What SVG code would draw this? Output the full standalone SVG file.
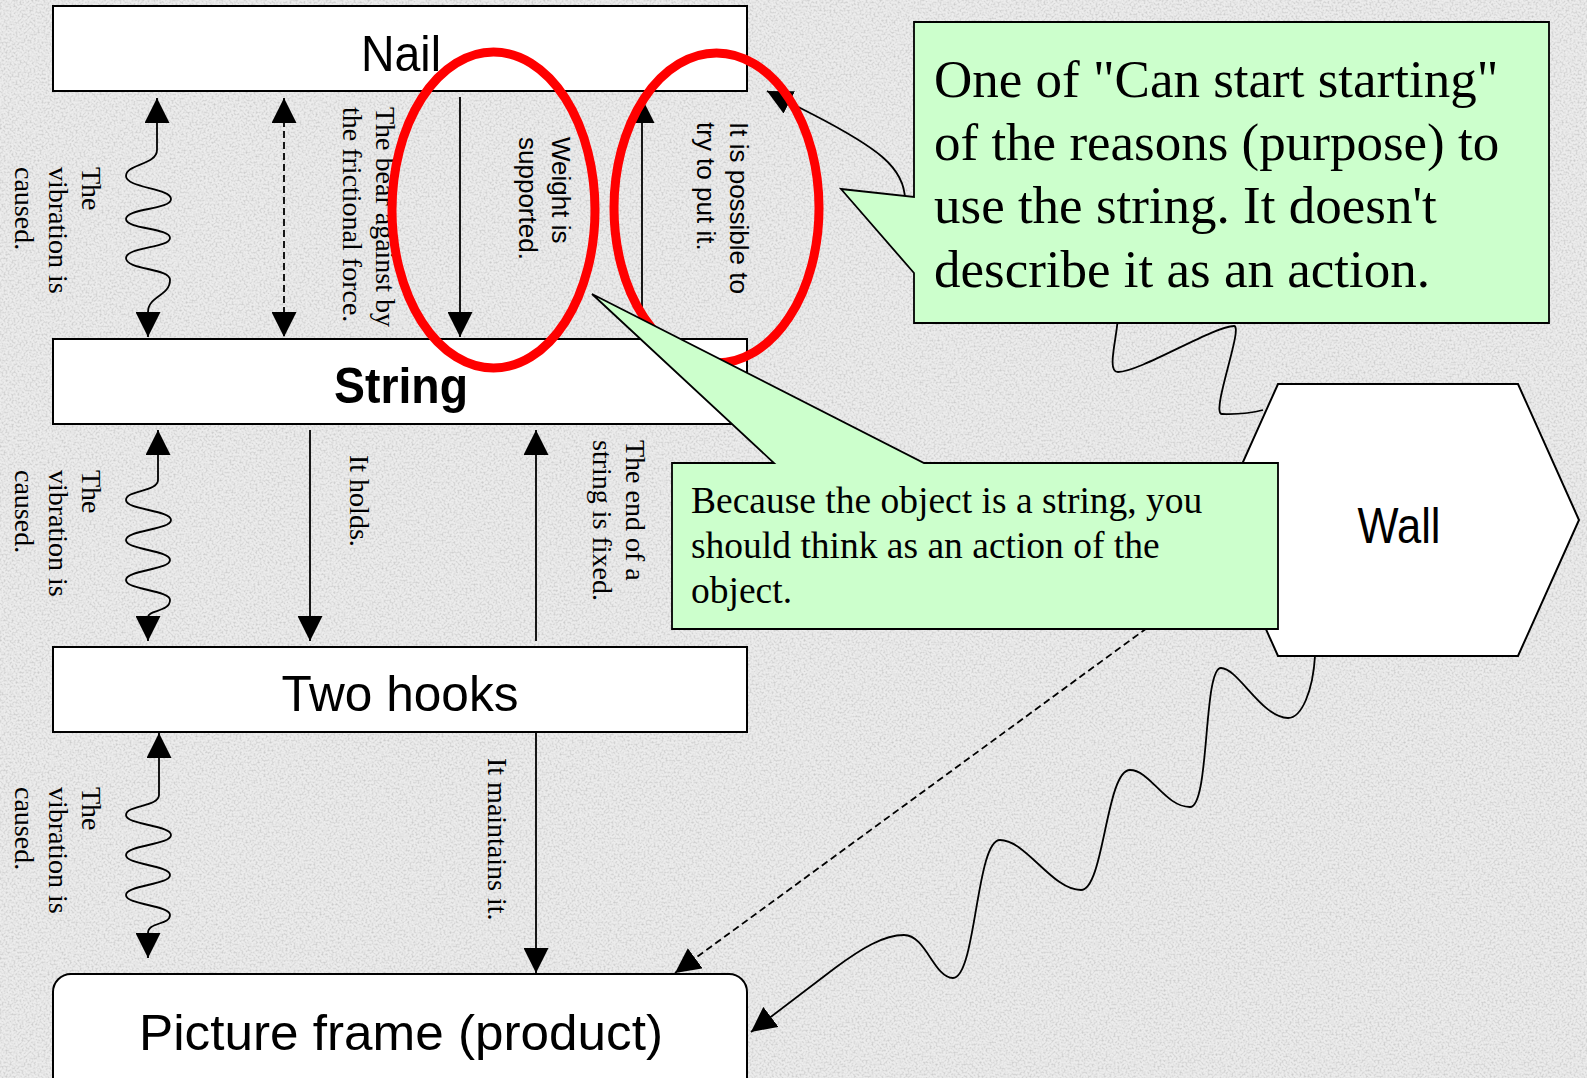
<svg xmlns="http://www.w3.org/2000/svg" width="1587" height="1078" viewBox="0 0 1587 1078">
<defs>
<style>
.box{fill:#fff;stroke:#000;stroke-width:2}
.lbl{font-family:"Liberation Sans",Arial,sans-serif;font-size:50px;fill:#000;text-anchor:middle}
.ser{font-family:"Liberation Serif","Times New Roman",serif;font-size:28px;fill:#000}
.san{font-family:"Liberation Sans",Arial,sans-serif;font-size:26px;fill:#000}
.ln{fill:none;stroke:#000;stroke-width:1.8}
.dash{stroke-dasharray:7 4}
.arr{marker-end:url(#ah)}
.arr2{marker-start:url(#ah);marker-end:url(#ah)}
.ring{fill:none;stroke:#ff0000;stroke-width:9}
.call{fill:#ccffcc;stroke:#000;stroke-width:1.8}
.ctxt{font-family:"Liberation Serif","Times New Roman",serif;fill:#000}
</style>
<marker id="ah" viewBox="0 0 25 25" refX="25" refY="12.5" markerWidth="25" markerHeight="25" markerUnits="userSpaceOnUse" orient="auto-start-reverse"><path d="M0,0 L25,12.5 L0,25 Z" fill="#000"/></marker>
<filter id="grain" x="0" y="0" width="1587" height="1078" filterUnits="userSpaceOnUse">
<feTurbulence type="fractalNoise" baseFrequency="0.5" numOctaves="3" seed="7" result="n"/>
<feColorMatrix in="n" type="matrix" values="0 0 0 0 0.58  0 0 0 0 0.58  0 0 0 0 0.58  2.3 0 0 0 -0.98"/>
</filter>
</defs>
<g id="background">
<rect x="0" y="0" width="1587" height="1078" fill="#ececec"/>
<rect x="0" y="0" width="1587" height="1078" filter="url(#grain)"/>
</g>
<g id="nail">
<rect class="box" x="53" y="6" width="694" height="85"/>
<text class="lbl" x="401" y="71" textLength="80" lengthAdjust="spacingAndGlyphs">Nail</text>
</g>
<g id="string">
<rect class="box" x="53" y="339" width="694" height="85"/>
<text class="lbl" x="401" y="403" font-weight="bold" textLength="134" lengthAdjust="spacingAndGlyphs">String</text>
</g>
<g id="two-hooks">
<rect class="box" x="53" y="647" width="694" height="85"/>
<text class="lbl" x="400" y="711" textLength="237" lengthAdjust="spacingAndGlyphs">Two hooks</text>
</g>
<g id="picture-frame">
<rect class="box" x="53" y="974" width="694" height="140" rx="18" ry="18"/>
<text class="lbl" x="401" y="1050" textLength="524" lengthAdjust="spacingAndGlyphs">Picture frame (product)</text>
</g>
<g id="connectors">
<path class="ln arr2" d="M157,98 V150 C157,165 126,164 126,176 C126,188 171,188 171,199 C171,210 126,208 126,219 C126,229 170,228 170,238 C170,248 126,247 126,258 C126,270 170,268 170,280 C170,296 148,296 148,312 V337"/>
<path class="ln dash arr2" d="M284,98 V337"/>
<path class="ln arr" d="M460,97 V337"/>
<path class="ln arr" d="M642,339 V98"/>
<path class="ln arr2" d="M158,430 V480 C158,492 126,490 126,500 C126,510 171,510 171,520 C171,530 126,530 126,540 C126,550 170,550 170,560 C170,570 126,570 126,580 C126,590 170,590 170,600 C170,612 148,610 148,617 V641"/>
<path class="ln arr" d="M310,430 V641"/>
<path class="ln arr" d="M536,641 V430"/>
<path class="ln arr2" d="M159,733 V795 C159,807 126,805 126,815 C126,825 171,825 171,835 C171,845 126,845 126,855 C126,865 170,865 170,875 C170,885 126,885 126,895 C126,905 170,905 170,915 C170,925 148,922 148,933 V958"/>
<path class="ln arr" d="M536,732 V973"/>
<path class="ln dash arr" d="M1236,563 L675,973"/>
<path class="ln arr" d="M1315,656 C1313,690 1302,718 1288,718 C1262,718 1238,668 1221,668 C1203,668 1210,807 1190,807 C1165,807 1150,770 1130,770 C1106,770 1104,890 1081,890 C1052,890 1026,840 1000,840 C976,840 976,978 953,978 C934,978 926,935 904,935 C884,935 862,948 835,968 L751,1032"/>
<path class="ln arr" d="M1263,410 C1245,415 1232,414 1222,414 C1210,414 1244,326 1234,326 C1214,326 1140,372 1118,372 C1104,372 1122,325 1118,300 C1112,250 1000,280 960,260 C930,248 905,250 905,230 L905,200 C905,168 878,148 812,114 L767,91"/>
<text class="ser" transform="translate(82,167) rotate(90)"><tspan x="0" y="0">The</tspan><tspan x="0" dy="33.5">vibration is</tspan><tspan x="0" dy="33.5">caused.</tspan></text>
<text class="ser" transform="translate(376,107) rotate(90)"><tspan x="0" y="0">The bear against by</tspan><tspan x="0" dy="33.5">the frictional force.</tspan></text>
<text class="san" transform="translate(552,137) rotate(90)"><tspan x="0" y="0">Weight is</tspan><tspan x="0" dy="33">supported.</tspan></text>
<text class="san" transform="translate(730,122) rotate(90)"><tspan x="0" y="0">It is possible to</tspan><tspan x="0" dy="33">try to put it.</tspan></text>
<text class="ser" transform="translate(82,470) rotate(90)"><tspan x="0" y="0">The</tspan><tspan x="0" dy="33.5">vibration is</tspan><tspan x="0" dy="33.5">caused.</tspan></text>
<text class="ser" transform="translate(350,455) rotate(90)">It holds.</text>
<text class="ser" transform="translate(626,440) rotate(90)"><tspan x="0" y="0">The end of a</tspan><tspan x="0" dy="33.5">string is fixed.</tspan></text>
<text class="ser" transform="translate(82,787) rotate(90)"><tspan x="0" y="0">The</tspan><tspan x="0" dy="33.5">vibration is</tspan><tspan x="0" dy="33.5">caused.</tspan></text>
<text class="ser" transform="translate(488,758) rotate(90)">It maintains it.</text>
</g>
<g id="wall">
<polygon points="1278,384 1518,384 1579,520 1518,656 1278,656 1217,520" fill="#fff" stroke="#000" stroke-width="2"/>
<text class="lbl" x="1399" y="543" textLength="83" lengthAdjust="spacingAndGlyphs">Wall</text>
</g>
<g id="highlights">
<ellipse class="ring" cx="493.5" cy="210" rx="101.5" ry="158"/>
<ellipse class="ring" cx="716.5" cy="208" rx="102.5" ry="155"/>
</g>
<g id="callout-purpose">
<path class="call" d="M914,22 L1549,22 L1549,323 L914,323 L914,273 L841,189 L914,197 Z"/>
<text class="ctxt" font-size="53"><tspan x="934" y="97">One of "Can start starting"</tspan><tspan x="934" y="160">of the reasons (purpose) to</tspan><tspan x="934" y="223">use the string. It doesn't</tspan><tspan x="934" y="287">describe it as an action.</tspan></text>
</g>
<g id="callout-object">
<path class="call" d="M672,463 L774,463 L592,294 L924,463 L1278,463 L1278,629 L672,629 Z"/>
<text class="ctxt" font-size="37.5"><tspan x="691" y="513">Because the object is a string, you</tspan><tspan x="691" y="558">should think as an action of the</tspan><tspan x="691" y="603">object.</tspan></text>
</g>
</svg>
